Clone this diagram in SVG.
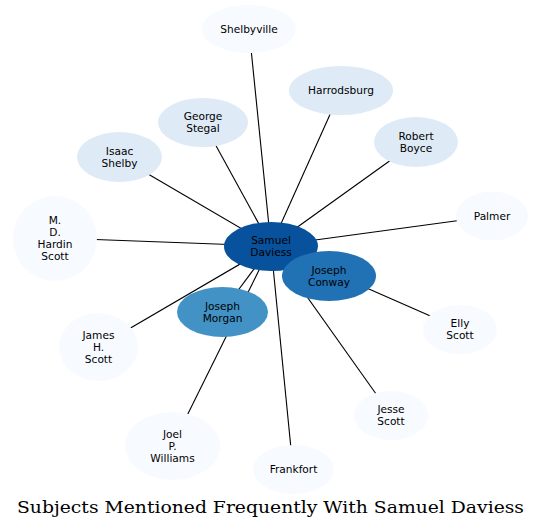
<svg xmlns="http://www.w3.org/2000/svg" width="541" height="529" viewBox="0 0 541 529">
<style>
.e{stroke:#000;stroke-width:1.1;fill:none}
.t{font-family:"DejaVu Sans",sans-serif;font-size:10.6px;fill:#000;text-anchor:middle}
.l0{fill:#f7fbff}.l1{fill:#deebf7}
.title{font-family:"DejaVu Serif",serif;font-size:17.5px;fill:#000;text-anchor:middle}
</style>
<rect width="541" height="529" fill="#fff"/>
<g id="connectors">
<line class="e" x1="271" y1="246" x2="249" y2="29"/>
<line class="e" x1="271" y1="246" x2="341" y2="90"/>
<line class="e" x1="271" y1="246" x2="203" y2="122"/>
<line class="e" x1="271" y1="246" x2="416" y2="142"/>
<line class="e" x1="271" y1="246" x2="119" y2="157"/>
<line class="e" x1="271" y1="246" x2="55" y2="238"/>
<line class="e" x1="271" y1="246" x2="492" y2="216"/>
<line class="e" x1="271" y1="246" x2="98" y2="347"/>
<line class="e" x1="271" y1="246" x2="172" y2="446"/>
<line class="e" x1="271" y1="246" x2="293" y2="469"/>
<line class="e" x1="271" y1="246" x2="460" y2="329"/>
<line class="e" x1="271" y1="246" x2="391" y2="415"/>
<line class="e" x1="271" y1="246" x2="222" y2="312"/>
<line class="e" x1="271" y1="246" x2="329" y2="276"/>
</g>
<g id="shelbyville"><ellipse class="l0" cx="249" cy="29" rx="47" ry="24"/><text class="t" x="249" y="32.7">Shelbyville</text></g>
<g id="harrodsburg"><ellipse class="l1" cx="341" cy="90.5" rx="52" ry="24.5"/><text class="t" x="341" y="94.2">Harrodsburg</text></g>
<g id="george-stegal"><ellipse class="l1" cx="203" cy="122.5" rx="45" ry="24.5"/><text class="t" x="203" y="120.2">George</text><text class="t" x="203" y="132.2">Stegal</text></g>
<g id="robert-boyce"><ellipse class="l1" cx="416" cy="142" rx="42" ry="25"/><text class="t" x="416" y="139.7">Robert</text><text class="t" x="416" y="151.7">Boyce</text></g>
<g id="isaac-shelby"><ellipse class="l1" cx="119.5" cy="157" rx="42.5" ry="25"/><text class="t" x="119.5" y="154.7">Isaac</text><text class="t" x="119.5" y="166.7">Shelby</text></g>
<g id="md-hardin-scott"><ellipse class="l0" cx="55" cy="238.5" rx="42" ry="42.5"/><text class="t" x="55" y="224.2">M.</text><text class="t" x="55" y="236.2">D.</text><text class="t" x="55" y="248.2">Hardin</text><text class="t" x="55" y="260.2">Scott</text></g>
<g id="palmer"><ellipse class="l0" cx="492" cy="216" rx="36" ry="24.5"/><text class="t" x="492" y="219.7">Palmer</text></g>
<g id="james-h-scott"><ellipse class="l0" cx="98.5" cy="347" rx="39.5" ry="34"/><text class="t" x="98.5" y="338.7">James</text><text class="t" x="98.5" y="350.7">H.</text><text class="t" x="98.5" y="362.7">Scott</text></g>
<g id="joel-p-williams"><ellipse class="l0" cx="172.5" cy="446" rx="47.5" ry="34"/><text class="t" x="172.5" y="437.7">Joel</text><text class="t" x="172.5" y="449.7">P.</text><text class="t" x="172.5" y="461.7">Williams</text></g>
<g id="frankfort"><ellipse class="l0" cx="293.5" cy="469.5" rx="40.5" ry="24.5"/><text class="t" x="293.5" y="473.2">Frankfort</text></g>
<g id="elly-scott"><ellipse class="l0" cx="460" cy="329.5" rx="37" ry="24.5"/><text class="t" x="460" y="327.2">Elly</text><text class="t" x="460" y="339.2">Scott</text></g>
<g id="jesse-scott"><ellipse class="l0" cx="391" cy="415.5" rx="37" ry="24.5"/><text class="t" x="391" y="413.2">Jesse</text><text class="t" x="391" y="425.2">Scott</text></g>
<g id="samuel-daviess"><ellipse fill="#08519c" cx="271" cy="246.5" rx="47" ry="24.5"/><text class="t" x="271" y="244.2">Samuel</text><text class="t" x="271" y="256.2">Daviess</text></g>
<g id="joseph-morgan"><ellipse fill="#4292c6" cx="222.5" cy="312" rx="45.5" ry="25"/><text class="t" x="222.5" y="309.7">Joseph</text><text class="t" x="222.5" y="321.7">Morgan</text></g>
<g id="joseph-conway"><ellipse fill="#2171b5" cx="329" cy="276" rx="47" ry="25"/><text class="t" x="329" y="273.7">Joseph</text><text class="t" x="329" y="285.7">Conway</text></g>
<text class="title" x="270.5" y="513" textLength="507" lengthAdjust="spacingAndGlyphs">Subjects Mentioned Frequently With Samuel Daviess</text>
</svg>
